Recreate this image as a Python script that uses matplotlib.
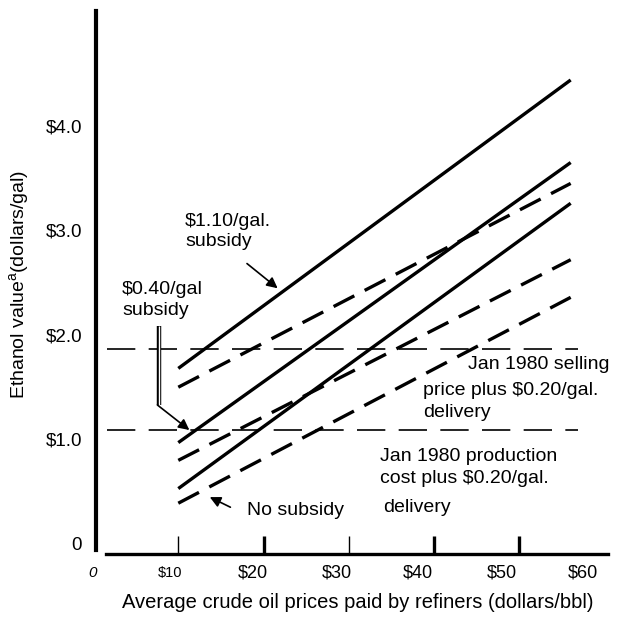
import matplotlib
matplotlib.use("Agg")
import matplotlib.pyplot as plt

plt.rcParams["font.family"] = ["Liberation Sans", "DejaVu Sans"]
plt.rcParams["mathtext.fontset"] = "custom"
plt.rcParams["mathtext.rm"] = "Liberation Sans"

# Crude oil price ($/bbl) at the ends of each line
crude_ends = [10, 56]

# Ethanol value ($/gal) at crude = $10 and crude = $56
solid_110 = [1.68, 4.44]
solid_040 = [0.97, 3.65]
solid_000 = [0.53, 3.26]
dashed_110 = [1.50, 3.45]
dashed_040 = [0.80, 2.72]
dashed_000 = [0.39, 2.36]

# Jan 1980 reference levels ($/gal)
selling_price = 1.87
production_cost = 1.09
ref_span = [1.6, 56.9]

yticks = [0, 1, 2, 3, 4]
ytick_labels = ["0", "\\$1.0", "\\$2.0", "\\$3.0", "\\$4.0"]
xticks = [10, 20, 30, 40, 50]
xtick_labels = ["0", "\\$10", "\\$20", "\\$30", "\\$40", "\\$50", "\\$60"]

fig = plt.figure(figsize=(6.19, 6.21), dpi=100)
ax = fig.add_axes([96 / 619, 1 - 554 / 621, 514 / 619, 543 / 621])
ax.set_xlim(0.352, 60.61)
ax.set_ylim(-0.096, 5.10)

for s in ["top", "right"]:
    ax.spines[s].set_visible(False)
ax.spines["left"].set_linewidth(3.0)
ax.spines["left"].set_bounds(-0.057, 5.10)
ax.spines["bottom"].set_linewidth(2.4)
ax.spines["bottom"].set_bounds(1.52, 60.4)

# sloped lines
for vals in [solid_110, solid_040, solid_000]:
    ax.plot(crude_ends, vals, color="black", lw=2.4, solid_capstyle="butt")
for vals in [dashed_110, dashed_040, dashed_000]:
    ax.plot(crude_ends, vals, color="black", lw=2.4, dashes=(7, 3.5),
            dash_capstyle="butt")

# horizontal reference lines
for lvl in [selling_price, production_cost]:
    ax.plot(ref_span, [lvl, lvl], color="black", lw=1.2, dashes=(17, 8))

# ticks
ax.set_yticks(yticks)
ax.set_yticklabels(ytick_labels, fontsize=13.5)
ax.tick_params(axis="y", length=0, pad=10)
ax.set_xticks(xticks)
ax.set_xticklabels([])
ax.tick_params(axis="x", direction="in", length=13, width=1.2)
for t, w in zip(ax.xaxis.get_major_ticks(), [1.0, 2.4, 1.0, 2.4, 2.4]):
    t.tick1line.set_markeredgewidth(w)

# x tick labels (hand-set positions as in the original print)
label_pos = [-0.1, 9.0, 18.8, 28.6, 38.1, 47.9, 57.4]
label_size = [11, 10.5, 13, 13, 13, 13, 13]
for lab, xp, fs in zip(xtick_labels, label_pos, label_size):
    ax.text(xp, -0.277, lab, ha="center", va="center", fontsize=fs,
            style="italic" if lab == "0" else "normal")

# annotations
FS = 14
ax.text(10.8, 2.99, "\\$1.10/gal.\nsubsidy", fontsize=FS, ha="left",
        va="center", linespacing=1.25)
ax.annotate("", xy=(21.9, 2.43), xytext=(17.8, 2.70),
            arrowprops=dict(arrowstyle="-|>", color="black", lw=1.2,
                            mutation_scale=16))

ax.text(3.4, 2.335, "\\$0.40/gal\nsubsidy", fontsize=FS, ha="left",
        va="center", linespacing=1.25)
ax.plot([7.7, 7.7], [2.09, 1.33], color="black", lw=3.2,
        solid_capstyle="butt")
ax.plot([7.7, 7.7], [2.09, 1.33], color="white", lw=1.0,
        solid_capstyle="butt")
ax.annotate("", xy=(11.3, 1.09), xytext=(7.55, 1.33),
            arrowprops=dict(arrowstyle="-|>", color="black", lw=1.2,
                            mutation_scale=16, shrinkA=0, shrinkB=0))

ax.text(43.96, 1.713, "Jan 1980 selling", fontsize=FS, ha="left",
        va="center")
ax.text(38.69, 1.364, "price plus \\$0.20/gal.\ndelivery", fontsize=FS,
        ha="left", va="center", linespacing=1.35)
ax.text(33.65, 0.732, "Jan 1980 production\ncost plus \\$0.20/gal.",
        fontsize=FS, ha="left", va="center", linespacing=1.4)
ax.text(34.0, 0.345, "delivery", fontsize=FS, ha="left", va="center")

ax.text(18.05, 0.325, "No subsidy", fontsize=FS, ha="left", va="center")
ax.annotate("", xy=(13.4, 0.46), xytext=(16.4, 0.34),
            arrowprops=dict(arrowstyle="-|>", color="black", lw=1.2,
                            mutation_scale=16))

fig.text(20 / 619, 1 - 284 / 621, "Ethanol value$^{\\rm a}$(dollars/gal)",
         rotation=90, ha="center", va="center", fontsize=14)
fig.text(358 / 619, 1 - 603 / 621,
         "Average crude oil prices paid by refiners (dollars/bbl)",
         ha="center", va="center", fontsize=14.5)

fig.savefig("out.png", dpi=100, facecolor="white")
